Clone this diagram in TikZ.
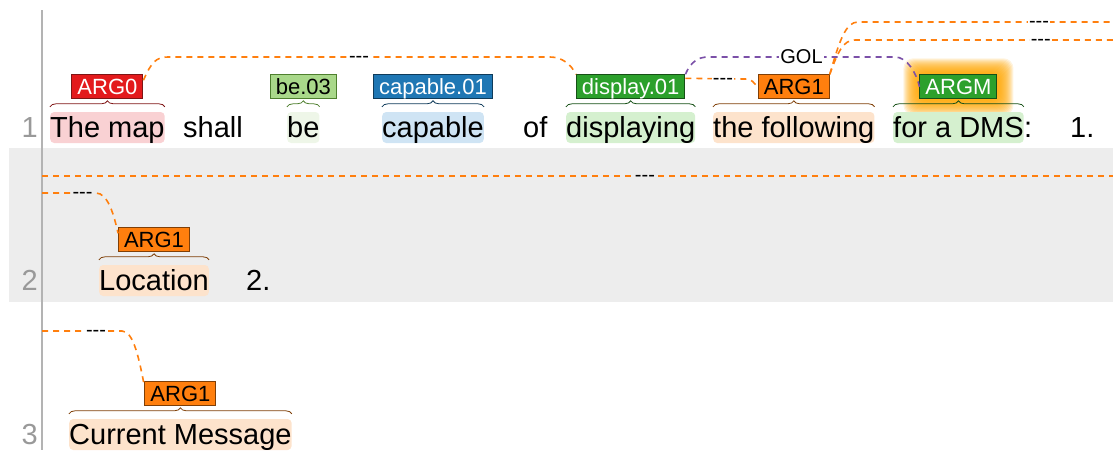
\documentclass[tikz,border=0pt]{standalone}
\usepackage{fontspec}
\setmainfont{Liberation Sans}
\usepackage{tikz}
\usetikzlibrary{decorations}
\usetikzlibrary{decorations.pathreplacing}
\usetikzlibrary{backgrounds}

\definecolor{bandgray}{HTML}{EDEDED}
\definecolor{linegray}{HTML}{B3B3B3}
\definecolor{numgray}{HTML}{999999}
\definecolor{hlred}{HTML}{F9D1D3}
\definecolor{hlpale}{HTML}{EEF6E8}
\definecolor{hlblue}{HTML}{CFE4F4}
\definecolor{hlgreen}{HTML}{D5F0CF}
\definecolor{hlorange}{HTML}{FDE3CC}
\definecolor{tagred}{HTML}{E31A1C}
\definecolor{tagredd}{HTML}{7F1515}
\definecolor{tagpale}{HTML}{A9D88A}
\definecolor{tagpaled}{HTML}{4E7F2E}
\definecolor{tagblue}{HTML}{1F77B4}
\definecolor{tagblued}{HTML}{0F3B5A}
\definecolor{taggreen}{HTML}{2CA02C}
\definecolor{taggreend}{HTML}{165016}
\definecolor{tagorange}{HTML}{FF7F0E}
\definecolor{tagoranged}{HTML}{7F3F07}
\definecolor{argorange}{HTML}{FF7F0E}
\definecolor{argpurple}{HTML}{7B50A8}
\definecolor{glow}{HTML}{FFA500}

\newcommand\nolab{-\kern0pt-\kern0pt-}

\begin{document}
\begin{tikzpicture}[x=1pt, y=-1pt,
    word/.style={anchor=base west, inner sep=0pt, text height=25pt, text depth=6pt,
        rounded corners=4pt, font=\fontsize{29}{34}\selectfont},
    lnum/.style={anchor=base east, inner sep=0pt, text=numgray, font=\fontsize{29}{34}\selectfont},
    tag/.style={draw, line width=1pt, inner xsep=5.5pt, inner ysep=0.5pt, text height=19pt,
        text depth=4pt, font=\fontsize{22}{26}\selectfont},
    brc/.style={decorate, decoration={brace, amplitude=6pt}, line width=0.8pt},
    arcl/.style={dash pattern=on 6pt off 5pt, line width=1.6pt, draw=argorange},
    rel/.style={fill=white, inner sep=1pt, font=\fontsize{20}{24}\selectfont},
    nolabel/.style={rel, yshift=-2.5pt}]

        \useasboundingbox (0,0) rectangle (1113,450);
        \fill[bandgray] (9,148) rectangle (1113,302);
        \draw[linegray, line width=2pt] (42,10) -- (42,450);

        \node[lnum] (n1) at (38,137) {1};
        \node[lnum] (n2) at (38,290) {2};
        \node[lnum] (n3) at (38,444) {3};

        \node[word, fill=hlred] (themap) at (50,137) {The map};
        \node[word] (shall) at (183,137) {shall};
        \node[word, fill=hlpale] (be) at (287,137) {be};
        \node[word, fill=hlblue] (capable) at (382,137) {capable};
        \node[word] (of) at (523,137) {of};
        \node[word, fill=hlgreen] (displaying) at (566,137) {displaying};
        \node[word, fill=hlorange] (following) at (713,137) {the following};
        \node[word, fill=hlgreen] (dms) at (893,137) {for a DMS};
        \node[word] (colon) at (dms.base east) {:};
        \node[word] (one) at (1070,137) {1.};

        \node[tag, fill=tagred, draw=tagredd, text=white] (arg0) at ([yshift=25pt]themap.north) {ARG0};
        \node[tag, fill=tagpale, draw=tagpaled] (be03) at ([yshift=25pt]be.north) {be.03};
        \node[tag, fill=tagblue, draw=tagblued, text=white] (cap01) at ([yshift=25pt]capable.north) {capable.01};
        \node[tag, fill=taggreen, draw=taggreend, text=white] (d01) at ([yshift=25pt]displaying.north) {display.01};
        \node[tag, fill=tagorange, draw=tagoranged] (arg1) at ([yshift=25pt]following.north) {ARG1};
        \node[tag, fill=taggreen, draw=taggreend, text=white] (argm) at ([yshift=25pt]dms.north) {ARGM};

        \begin{scope}[on background layer]
            \foreach \r in {1,...,16}
                \fill[glow, opacity=0.13, rounded corners=10pt]
                    ([shift={(-\r pt,\r pt)}]argm.north west) rectangle ([shift={(\r pt,-\r pt)}]argm.south east);
        \end{scope}

        \draw[brc, draw=tagredd] ([yshift=5pt]themap.north west) -- ([yshift=5pt]themap.north east);
        \draw[brc, draw=tagpaled] ([yshift=5pt]be.north west) -- ([yshift=5pt]be.north east);
        \draw[brc, draw=tagblued] ([yshift=5pt]capable.north west) -- ([yshift=5pt]capable.north east);
        \draw[brc, draw=taggreend] ([yshift=5pt]displaying.north west) -- ([yshift=5pt]displaying.north east);
        \draw[brc, draw=tagoranged] ([yshift=5pt]following.north west) -- ([yshift=5pt]following.north east);
        \draw[brc, draw=taggreend] ([yshift=5pt]dms.north west) -- ([yshift=5pt]dms.north east);

        \draw[arcl] ([yshift=-6pt]arg0.north east) .. controls +(8,-18) and +(-12,0) .. (168,57)
            -- node[nolabel] {\nolab} (550,57) .. controls +(12,0) and +(-5,-10) .. (d01.north west);
        \draw[arcl] ([yshift=-4pt]d01.north east) -- node[nolabel, pos=0.63] {\nolab} (745,79)
            .. controls +(8,0) and +(-5,-4) .. (arg1.west);
        \draw[arcl, draw=argpurple] (d01.north east) .. controls +(5,-12) and +(-10,0) .. (708,57)
            -- node[rel] {GOL} (895,57) .. controls +(12,0) and +(-3,-14) .. (argm.west);

        \coordinate (out1) at (1113,22);
        \coordinate (out2) at (1113,40);
        \draw[arcl] (arg1.north east) .. controls +(10,-35) and +(-12,0) .. (858,22)
            -- node[nolabel, pos=0.71] {\nolab} (out1);
        \draw[arcl] (arg1.north east) .. controls +(8,-22) and +(-12,0) .. (855,40)
            -- node[nolabel, pos=0.72] {\nolab} (out2);

        \node[word, fill=hlorange] (location) at (99,290) {Location};
        \node[word] (two) at (246,290) {2.};
        \node[tag, fill=tagorange, draw=tagoranged] (loc1) at ([yshift=25pt]location.north) {ARG1};
        \draw[brc, draw=tagoranged] ([yshift=5pt]location.north west) -- ([yshift=5pt]location.north east);

        \coordinate (in2a) at (42,176);
        \coordinate (out2a) at (1113,176);
        \draw[arcl] (in2a) -- node[nolabel, fill=bandgray, pos=0.563] {\nolab} (out2a);
        \coordinate (in2b) at (42,193);
        \draw[arcl] (in2b) -- node[nolabel, fill=bandgray, pos=0.75] {\nolab} (96,193)
            .. controls +(12,0) and +(-4,-18) .. ([yshift=-6pt]loc1.north west);

        \node[word, fill=hlorange] (current) at (69,444) {Current Message};
        \node[tag, fill=tagorange, draw=tagoranged] (cm1) at ([yshift=25pt]current.north) {ARG1};
        \draw[brc, draw=tagoranged] ([yshift=5pt]current.north west) -- ([yshift=5pt]current.north east);

        \coordinate (in3) at (42,331);
        \draw[arcl] (in3) -- node[nolabel, pos=0.675] {\nolab} (122,331)
            .. controls +(12,0) and +(-5,-25) .. ([yshift=-5pt]cm1.north west);
    \end{tikzpicture}
\end{document}
